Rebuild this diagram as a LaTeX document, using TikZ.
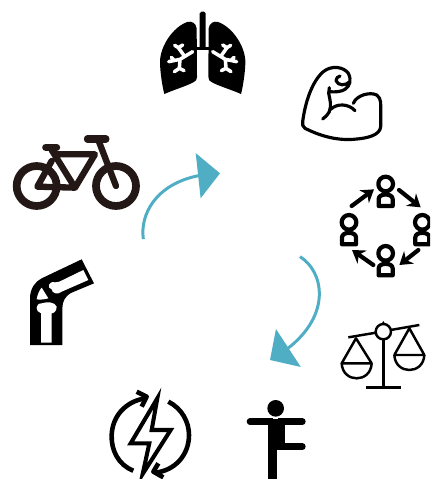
\documentclass[tikz,border=0pt]{standalone}
\usepackage{xcolor}
\usetikzlibrary{arrows.meta,bending}
\definecolor{tealarrow}{HTML}{4FADC4}
\definecolor{bikeblack}{HTML}{231815}
\tikzset{
zoomed/.style={scale=1/3},
px2/.style={line width=1.4pt},
px3/.style={line width=1.8pt},
px4/.style={line width=2.6pt},
cyclearrow/.style={-{Triangle[length=12.5pt,width=25.5pt]},tealarrow,line width=1.7pt},
peoplearrow/.style={-{Stealth[length=7pt,width=9pt]},line width=2.4pt,line cap=round},
}
\begin{document}
\begin{tikzpicture}[x=0.02cm,y=-0.02cm,line join=round]
\useasboundingbox(0,0)rectangle(430,479);
\clip(0,0)rectangle(430,479);
% lungs
\begin{scope}[shift={(202.67,0)},zoomed]
\fill[rounded corners=1pt](-9,35)rectangle(9,147);
\fill(-20,140)rectangle(20,150);
\foreach \side in {1,-1}{
\begin{scope}[xscale=\side]
\fill(-18,85).. controls (-20,70) and (-33,62) .. (-46,66)
.. controls (-88,80) and (-130,140) .. (-128,190)
.. controls (-127,220) and (-121,260) .. (-115,282)
.. controls (-88,270) and (-48,258) .. (-28,247)
.. controls (-20,243) and (-17,240) .. (-17,230)--cycle;
\draw[white,line width=2pt,line cap=round](-30,155)--(-68,178)--(-70,205)
(-70,205)--(-85,215)(-70,205)--(-56,212)
(-55,168)--(-73,143)(-73,143)--(-84,136)(-73,143)--(-60,135)
(-68,178)--(-102,185)(-85,181)--(-94,172);
\end{scope}
}
\end{scope}
% muscle
\begin{scope}[shift={(290,50)},zoomed]
\draw[px3,line cap=round](38,215).. controls (45,160) and (65,95) .. (100,65)
.. controls (125,45) and (160,50) .. (175,70)
.. controls (185,90) and (180,108) .. (165,118)
.. controls (155,125) and (135,127) .. (118,125)
(180,95).. controls (165,108) and (145,108) .. (138,92)
.. controls (138,85) and (143,80) .. (150,78)
(118,113)--(116,130).. controls (120,150) and (125,165) .. (118,185)
.. controls (112,195) and (105,203) .. (98,207)
(122,178).. controls (140,160) and (175,160) .. (195,182)
(190,160).. controls (200,135) and (240,125) .. (260,135)
.. controls (275,145) and (272,165) .. (272,180)--(272,230)
.. controls (270,255) and (235,265) .. (190,268)
.. controls (135,272) and (85,255) .. (45,235)
.. controls (38,230) and (36,222) .. (38,215);
\end{scope}
% people
\begin{scope}[shift={(330,170)},zoomed]
\foreach \hx/\hy in {167/42,167/250,57/157,277/157}{
\draw[line width=2.4pt]({\hx},{\hy})circle[radius=0.44cm];
\draw[line width=2.4pt]({\hx-21},{\hy+66})--({\hx-21},{\hy+45}).. controls ({\hx-21},{\hy+27}) and ({\hx+21},{\hy+27}) .. ({\hx+21},{\hy+45})--({\hx+21},{\hy+66})--cycle;
}
\draw[peoplearrow](65,108)--(132,58);
\draw[peoplearrow](207,60)--(272,112);
\draw[peoplearrow](265,240)--(208,285);
\draw[peoplearrow](130,285)--(66,240);
\end{scope}
% scales
\begin{scope}[shift={(330,310)},zoomed]
\draw[px2](55,82)--(138,68)(182,60)--(268,45);
\draw[px2](160,65)circle[radius=0.46cm];
\fill(154,43)--(160,33)--(166,43)--cycle;
\draw[px2](160,88)--(160,232)(108,232)--(212,232);
\draw[px2](78,85)--(35,160)--(125,160)--cycle;
\draw[px2](35,160).. controls (38,220) and (122,220) .. (125,160);
\draw[px2](238,55)--(193,135)--(283,135)--cycle;
\draw[px2](193,135).. controls (196,195) and (280,195) .. (283,135);
\end{scope}
% energy
\begin{scope}[shift={(100,380)},zoomed]
\draw[px4](100,272).. controls (55,255) and (33,210) .. (35,165)
.. controls (37,110) and (75,65) .. (135,55);
\draw[px4](110,35)--(140,50)--(125,80);
\draw[px4](205,65).. controls (245,85) and (267,125) .. (267,165)
.. controls (267,225) and (225,272) .. (165,278);
\draw[px4](190,292)--(160,275)--(175,250);
\draw[line width=2.3pt,line join=miter](172,55)--(92,190)--(148,190)--(128,282)--(212,150)--(155,150)--cycle;
\end{scope}
% balance
\begin{scope}[shift={(100,380)},zoomed]
\fill(527,85)circle[radius=0.5cm];
\draw[line width=3.8pt,line cap=round](450,125)--(607,125);
\fill(505,125)rectangle(555,210);
\draw[line width=3.8pt,line cap=round](555,200)--(607,200);
\fill(505,200)rectangle(530,300);
\fill[white](520,112)rectangle(534,116);
\end{scope}
% bicycle
\begin{scope}[shift={(0,125)},zoomed,bikeblack]
\draw[line width=4.4pt](110,183)circle[radius=1.2cm];
\draw[line width=4.4pt](348,183)circle[radius=1.2cm];
\draw[line width=3.6pt,line cap=round](155,75)--(225,188)--(285,88)--(165,88)
(155,108)--(112,185)--(225,188)(295,45)--(348,183);
\draw[line width=4pt,line cap=round](262,42)--(318,42)(137,67)--(170,67);
\end{scope}
% knee
\begin{scope}[shift={(20,250)},zoomed]
\fill(185,28)--(222,100)--(155,128).. controls (135,138) and (127,155) .. (127,175)--(127,285)--(30,285)--(30,140)
.. controls (32,115) and (45,95) .. (65,85)--cycle;
\fill[white](118,95)--(190,60)--(205,90)--(125,125).. controls (115,135) and (95,130) .. (95,118)
.. controls (80,115) and (85,92) .. (105,97).. controls (110,97) and (115,95) .. (118,95)--cycle;
\fill[white](63,278)--(63,190).. controls (45,185) and (45,160) .. (65,160)
.. controls (80,155) and (105,155) .. (110,170).. controls (110,185) and (100,190) .. (95,190)--(95,278)--cycle;
\fill[white](50,148).. controls (52,135) and (58,120) .. (65,113)--(85,145).. controls (75,148) and (60,150) .. (50,148)--cycle;
\end{scope}
% cycle arrows
\begin{scope}[shift={(130,145)},zoomed]
\draw[cyclearrow](40,282).. controls (28,200) and (90,90) .. (270,85);
\draw[cyclearrow](510,335).. controls (590,385) and (610,540) .. (420,645);
\end{scope}
\end{tikzpicture}
\end{document}
